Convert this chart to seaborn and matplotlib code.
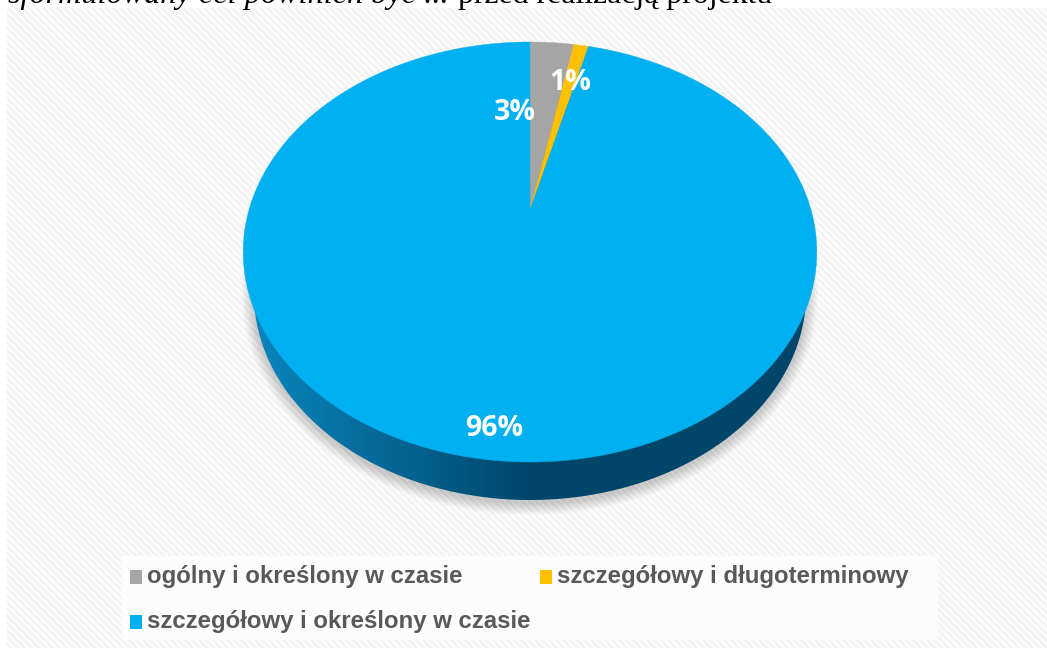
import numpy as np
import pandas as pd
import matplotlib
matplotlib.use("Agg")
import matplotlib.pyplot as plt
from matplotlib.collections import LineCollection
from matplotlib.legend_handler import HandlerPatch
from matplotlib.patches import Patch, Polygon, Rectangle
import seaborn as sns

categories = ["ogólny i określony w czasie",
              "szczegółowy i długoterminowy",
              "szczegółowy i określony w czasie"]
shares = [3, 1, 96]
colors = ["#A5A5A5", "#FFC000", "#00B0F0"]
label_xy = [(515, 113), (570, 82), (494, 428)]

sns.set_theme(style="white")
data = pd.DataFrame({"category": categories, "share": shares})
palette = sns.color_palette(colors)

fig = plt.figure(figsize=(10.47, 6.48), dpi=100)
ax = fig.add_axes([0, 0, 1, 1])
ax.set_xlim(0, 1047)
ax.set_ylim(648, 0)
ax.axis("off")

# Striped panel behind the chart
panel = Rectangle((6, 8), 1041, 640, fc="white", ec="none", zorder=0)
ax.add_patch(panel)
offsets = np.arange(-700, 1100, 7.0)
stripes = LineCollection([[(o, 0), (o + 700, 700)] for o in offsets],
                         colors="#f4f4f4", linewidths=2.2, zorder=0.5)
ax.add_collection(stripes)
stripes.set_clip_path(panel)

# Tilted pie: the disc is drawn through a perspective projection
APEX = (530.0, 210.0)
K, A, B = 0.2, 281.0, 201.6


def project(theta):
    w = 1 + K * np.cos(theta)
    return APEX[0] + A * np.sin(theta) / w, APEX[1] - B * np.cos(theta) / w


def ellipse(cx, cy, rx, ry, n=720):
    t = np.linspace(0, 2 * np.pi, n)
    return np.column_stack([cx + rx * np.cos(t), cy + ry * np.sin(t)])


def lowered_square(legend, orig_handle, xdescent, ydescent, width, height, fontsize):
    return Rectangle((-xdescent, -ydescent - 2.0), width, height)


# Soft shadow under the disc
for grow in np.arange(12, 0, -1):
    ax.add_patch(Polygon(ellipse(530, 297, 276 + grow, 206 + grow), fc="black",
                         ec="none", alpha=0.016, zorder=1))

# Disc edge with a left-to-right shading
edge = Polygon(ellipse(530, 294, 276, 206), fc="none", ec="none", zorder=2)
ax.add_patch(edge)
ramp = np.interp(np.linspace(240, 820, 580), [250, 330, 400, 470, 530, 820], [0, .28, .52, .78, 1, 1])
start, end = np.array(matplotlib.colors.to_rgb("#0A86BE")), np.array(matplotlib.colors.to_rgb("#00466A"))
shade = (start[None, :] + ramp[:, None] * (end - start))[None, :, :]
img = ax.imshow(shade, extent=(240, 820, 505, 70), aspect="auto", zorder=2, interpolation="bilinear")
ax.set_xlim(0, 1047)
ax.set_ylim(648, 0)
img.set_clip_path(edge)

# Top face wedges, clockwise from twelve o'clock
bounds = np.deg2rad(np.cumsum([0] + shares) * 3.6)
for i, row in data.iterrows():
    th = np.linspace(bounds[i], bounds[i + 1], max(4, int(row["share"] * 8)))
    xs, ys = project(th)
    pts = np.column_stack([np.r_[APEX[0], xs], np.r_[APEX[1], ys]])
    ax.add_patch(Polygon(pts, fc=palette[i], ec=palette[i], lw=0.3, zorder=3))
    ax.text(*label_xy[i], f"{row['share']}%", color="white", fontsize=20.5, fontweight="bold",
            family="Open Sans", ha="center", va="center", zorder=5)

# Legend on a pale band
ax.add_patch(Rectangle((122, 556), 816, 84, fc="white", ec="none", alpha=0.75, zorder=1.5))
handles = [Patch(fc=palette[i], ec="none") for i in (0, 2, 1)]
labels = [categories[i] for i in (0, 2, 1)]
ax.legend(handles, labels, loc="upper left", bbox_to_anchor=(130, 565), bbox_transform=ax.transData,
          ncol=2, frameon=False, borderpad=0, borderaxespad=0,
          handlelength=0.5, handleheight=0.5, handletextpad=0.2,
          columnspacing=0.42, labelspacing=0.92,
          handler_map={Patch: HandlerPatch(patch_func=lowered_square)},
          prop={"family": "Liberation Sans", "weight": "bold", "size": 17.25}, labelcolor="#595959")

# Sentence cut by the top edge of the figure
ax.text(8, 3, "sformułowany cel powinien być ...", family="Liberation Serif", style="italic",
        fontsize=23.2, color="black", ha="left", va="baseline", zorder=6)
ax.text(458, 3, "przed realizacją projektu", family="Liberation Serif",
        fontsize=22.9, color="black", ha="left", va="baseline", zorder=6)

fig.savefig("out.png", dpi=100)
